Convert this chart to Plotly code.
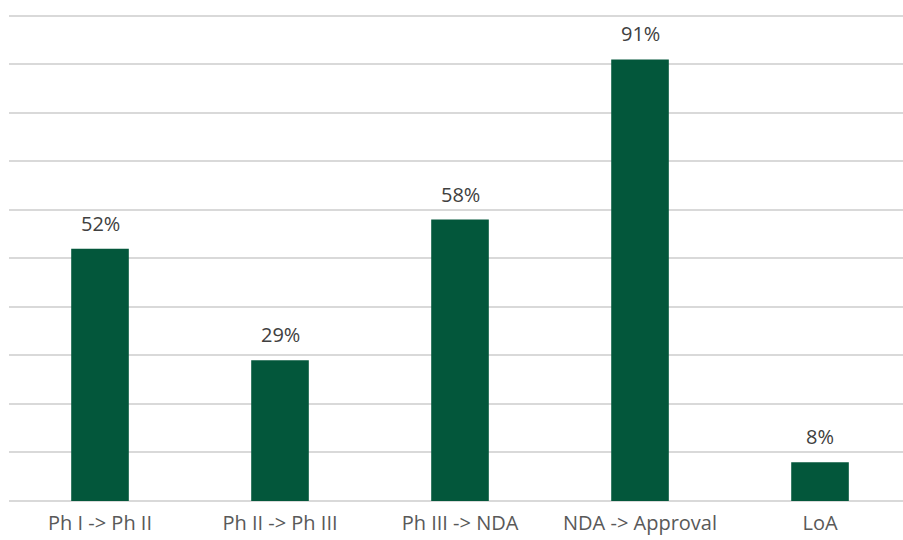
import plotly.graph_objects as go

categories = ["Ph I -> Ph II", "Ph II -> Ph III", "Ph III -> NDA", "NDA -> Approval", "LoA"]
values = [52, 29, 58, 91, 8]
labels = ["52%", "29%", "58%", "91%", "8%"]

FONT = "Open Sans, Liberation Sans, sans-serif"
x = list(range(len(categories)))

fig = go.Figure(go.Bar(x=x, y=values, width=0.32, marker=dict(color="#03573B", line=dict(width=0))))

for xi, v, t in zip(x, values, labels):
    fig.add_annotation(x=xi, y=v, text=t, showarrow=False, yanchor="bottom", yshift=10,
                       font=dict(family=FONT, size=20, color="#404040"))

fig.update_layout(
    width=903, height=540,
    margin=dict(l=9, r=0, t=6, b=39),
    plot_bgcolor="white", paper_bgcolor="white",
    showlegend=False,
    font=dict(family=FONT, size=20, color="#595959"),
)
fig.update_xaxes(range=[-0.5056, 4.461], tickvals=x, ticktext=categories, showgrid=False,
                 zeroline=False, showline=False, ticks="outside", ticklen=4, tickcolor="rgba(0,0,0,0)",
                 tickfont=dict(family=FONT, size=20, color="#595959"), automargin=False)
fig.update_yaxes(range=[0, 102], tickvals=[0, 10, 20, 30, 40, 50, 60, 70, 80, 90, 100],
                 showticklabels=False, showgrid=True, gridcolor="#D9D9D9", automargin=False,
                 gridwidth=2, zeroline=True, zerolinecolor="#D9D9D9", zerolinewidth=2)

fig.write_html("out.html")
